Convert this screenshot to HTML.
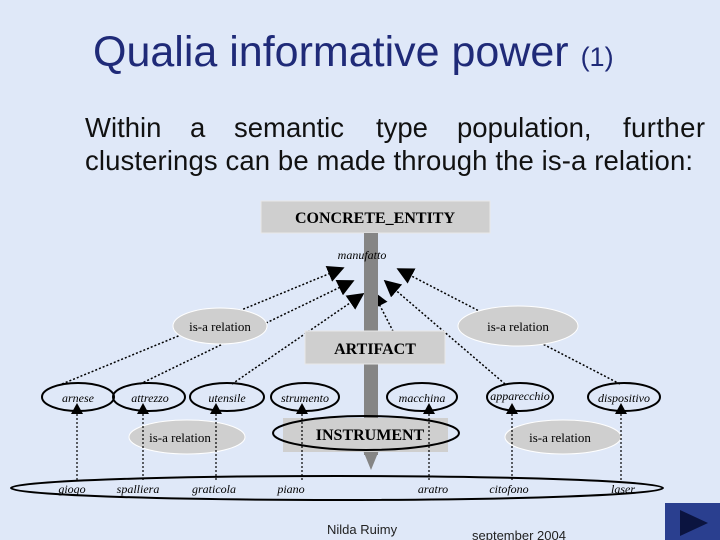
<!DOCTYPE html>
<html><head><style>
body{margin:0;width:720px;height:540px;overflow:hidden;background:#dfe8f8;}
svg{display:block}
.t{font-family:"Liberation Sans",sans-serif;}
.s{font-family:"Liberation Serif",serif;}
</style></head><body>
<svg width="720" height="540" viewBox="0 0 720 540">
<defs>
<marker id="ah" viewBox="0 0 10 10" refX="9" refY="5" markerWidth="17" markerHeight="17" markerUnits="userSpaceOnUse" orient="auto"><path d="M0,0L10,5L0,10z" fill="#000"/></marker>
</defs>
<text class="t" x="93" y="66" font-size="43" fill="#1f2a78">Qualia informative power <tspan font-size="27">(1)</tspan></text>
<text class="t" font-size="27.5" fill="#111">
<tspan x="85" y="137">Within</tspan><tspan x="190" y="137">a</tspan><tspan x="234" y="137">semantic</tspan><tspan x="376" y="137">type</tspan><tspan x="457" y="137">population,</tspan><tspan x="623" y="137" textLength="82">further</tspan>
<tspan x="85" y="170" textLength="608">clusterings can be made through the is-a relation:</tspan></text>
<!-- dotted arrows to manufatto (behind) -->
<g stroke="#000" stroke-width="1.5" stroke-dasharray="2,2" fill="none" marker-end="url(#ah)">
<line x1="62" y1="384" x2="343" y2="268"/>
<line x1="140" y1="384" x2="353" y2="281"/>
<line x1="232" y1="384" x2="363" y2="294"/>
<line x1="395" y1="335" x2="373" y2="292"/>
<line x1="505" y1="384" x2="385" y2="281"/>
<line x1="620" y1="384" x2="398" y2="269"/>
</g>
<!-- boxes -->
<rect x="261" y="201" width="229" height="32" fill="#cfcfcf" stroke="#e8e8e8"/>
<text class="s" x="375" y="223" font-size="16" font-weight="bold" text-anchor="middle">CONCRETE_ENTITY</text>
<rect x="364" y="233" width="14" height="222" fill="#858585"/>
<polygon points="362,448 380,448 371,470" fill="#858585"/>
<text class="s" x="362" y="259" font-size="12" font-style="italic" text-anchor="middle">manufatto</text>
<rect x="305" y="331" width="140" height="33" fill="#cfcfcf" stroke="#e8e8e8"/>
<text class="s" x="375" y="354" font-size="16" font-weight="bold" text-anchor="middle">ARTIFACT</text>
<ellipse cx="220" cy="326" rx="47" ry="18" fill="#cfcfcf" stroke="#fff"/>
<text class="s" x="220" y="331" font-size="13" text-anchor="middle">is-a relation</text>
<ellipse cx="518" cy="326" rx="60" ry="20" fill="#cfcfcf" stroke="#fff"/>
<text class="s" x="518" y="331" font-size="13" text-anchor="middle">is-a relation</text>
<ellipse cx="187" cy="437" rx="58" ry="17" fill="#cfcfcf" stroke="#fff"/>
<text class="s" x="180" y="442" font-size="13" text-anchor="middle">is-a relation</text>
<ellipse cx="563" cy="437" rx="58" ry="17" fill="#cfcfcf" stroke="#fff"/>
<text class="s" x="560" y="442" font-size="13" text-anchor="middle">is-a relation</text>
<rect x="283" y="418" width="165" height="34" fill="#cfcfcf"/>
<ellipse cx="366" cy="433" rx="93" ry="17" fill="none" stroke="#000" stroke-width="2"/>
<text class="s" x="370" y="440" font-size="16" font-weight="bold" text-anchor="middle">INSTRUMENT</text>
<!-- dotted verticals -->
<g stroke="#000" stroke-width="1.2" stroke-dasharray="2,2">
<line x1="77" y1="410" x2="77" y2="480"/><line x1="143" y1="410" x2="143" y2="480"/>
<line x1="216" y1="410" x2="216" y2="480"/><line x1="302" y1="410" x2="302" y2="480"/>
<line x1="429" y1="410" x2="429" y2="480"/><line x1="512" y1="410" x2="512" y2="480"/>
<line x1="621" y1="410" x2="621" y2="480"/>
</g>
<!-- term ellipses -->
<g fill="none" stroke="#000" stroke-width="2">
<ellipse cx="78" cy="397" rx="36" ry="14"/><ellipse cx="149" cy="397" rx="36" ry="14"/>
<ellipse cx="227" cy="397" rx="37" ry="14"/><ellipse cx="305" cy="397" rx="34" ry="14"/>
<ellipse cx="422" cy="397" rx="35" ry="14"/><ellipse cx="520" cy="397" rx="33" ry="14"/>
<ellipse cx="624" cy="397" rx="36" ry="14"/>
<ellipse cx="337" cy="488" rx="326" ry="12"/>
</g>
<g fill="#000">
<polygon points="77,403 71,414 83,414"/><polygon points="143,403 137,414 149,414"/>
<polygon points="216,403 210,414 222,414"/><polygon points="302,403 296,414 308,414"/>
<polygon points="429,403 423,414 435,414"/><polygon points="512,403 506,414 518,414"/>
<polygon points="621,403 615,414 627,414"/>
</g>
<g class="s" font-size="12" font-style="italic" text-anchor="middle">
<text x="78" y="402">arnese</text><text x="150" y="402">attrezzo</text><text x="227" y="402">utensile</text>
<text x="305" y="402">strumento</text><text x="422" y="402">macchina</text><text x="520" y="400">apparecchio</text>
<text x="624" y="402">dispositivo</text>
<text x="72" y="493">giogo</text><text x="138" y="493">spalliera</text><text x="214" y="493">graticola</text>
<text x="291" y="493">piano</text><text x="433" y="493">aratro</text><text x="509" y="493">citofono</text><text x="623" y="493">laser</text>
</g>
<text class="t" x="327" y="534" font-size="13" fill="#222">Nilda Ruimy</text>
<text class="t" x="472" y="540" font-size="13" fill="#222">september 2004</text>
<rect x="665" y="503" width="55" height="37" fill="#2a3f8f"/>
<polygon points="680,510 680,536 708,523" fill="#0b1440"/>
</svg>
</body></html>
